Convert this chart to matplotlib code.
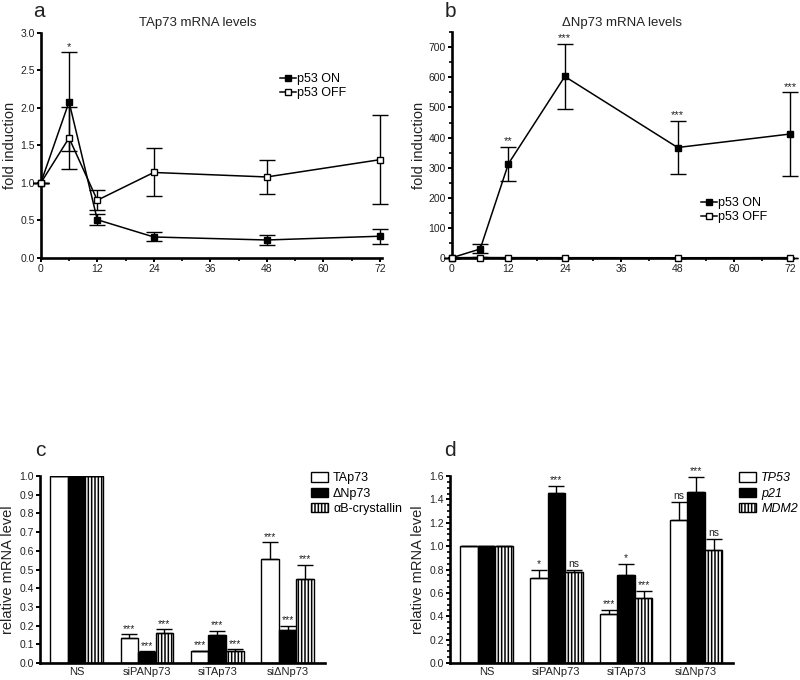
import numpy as np
import matplotlib
matplotlib.use("Agg")
import matplotlib.pyplot as plt
import matplotlib.ticker as ticker

plt.rcParams['font.family'] = ['Liberation Sans', 'DejaVu Sans']
plt.rcParams['hatch.linewidth'] = 1.1
plt.rcParams['hatch.color'] = 'black'

# --- time course data (panels a, b) ---
hours = [0, 6, 12, 24, 48, 72]

tap73_on = [1.0, 2.08, 0.51, 0.28, 0.24, 0.29]
tap73_on_err = [0.0, 0.66, 0.07, 0.06, 0.07, 0.10]
tap73_off = [1.0, 1.60, 0.77, 1.14, 1.08, 1.31]
tap73_off_err = [0.0, 0.41, 0.13, 0.32, 0.23, 0.59]
tap73_stars = ['', '*', '', '', '', '']

dnp73_on = [1.0, 30, 313, 603, 367, 412]
dnp73_on_err = [0.0, 15, 57, 108, 88, 138]
dnp73_off = [1.0, 1.5, 1.2, 1.0, 0.8, 1.1]
dnp73_off_err = [0.0, 0.5, 0.3, 0.3, 0.2, 0.3]
dnp73_stars = ['', '', '**', '***', '***', '***']

# --- siRNA data (panels c, d) ---
conditions = ['NS', 'siPANp73', 'siTAp73', 'siΔNp73']

c_labels = ['TAp73', 'ΔNp73', 'αB-crystallin']
c_values = [[1.0, 0.135, 0.062, 0.555],
            [1.0, 0.057, 0.150, 0.175],
            [1.0, 0.160, 0.063, 0.450]]
c_errors = [[0.0, 0.018, 0.004, 0.090],
            [0.0, 0.005, 0.023, 0.025],
            [0.0, 0.020, 0.010, 0.075]]
c_stars = [['', '***', '***', '***'],
           ['', '***', '***', '***'],
           ['', '***', '***', '***']]

d_labels = ['TP53', 'p21', 'MDM2']
d_values = [[1.0, 0.73, 0.415, 1.225],
            [1.0, 1.455, 0.755, 1.465],
            [1.0, 0.775, 0.560, 0.965]]
d_errors = [[0.0, 0.065, 0.040, 0.155],
            [0.0, 0.060, 0.095, 0.130],
            [0.0, 0.020, 0.060, 0.100]]
d_stars = [['', '*', '***', 'ns'],
           ['', '***', '*', '***'],
           ['', 'ns', '***', 'ns']]

TXT = '#222222'


def style_axes(ax):
    for s in ['top', 'right']:
        ax.spines[s].set_visible(False)
    for s in ['left', 'bottom']:
        ax.spines[s].set_linewidth(1.9)
    ax.tick_params(which='major', direction='out', length=3, width=1.4,
                   labelsize=7.5, colors='black', labelcolor=TXT, pad=1.5)
    ax.tick_params(which='minor', direction='out', length=2, width=1.2)


def time_panel(ax, on, on_err, off, off_err, stars, ylim, major, minor, legend_pos):
    h_on = ax.errorbar(hours, on, yerr=on_err, color='black', lw=1.1, marker='s', ms=5,
                       mfc='black', mec='black', capsize=6, elinewidth=1.0, capthick=1.0,
                       label='p53 ON', clip_on=False, zorder=3)
    h_off = ax.errorbar(hours, off, yerr=off_err, color='black', lw=1.1, marker='s', ms=5,
                        mfc='white', mec='black', mew=1.0, capsize=6, elinewidth=1.0,
                        capthick=1.0, label='p53 OFF', clip_on=False, zorder=3)
    for x, y, e, s in zip(hours, on, on_err, stars):
        if s:
            ax.annotate(s, (x, y + e), xytext=(0, 0.5), textcoords='offset points',
                        ha='center', va='bottom', fontsize=8, color=TXT)
    ax.set_xlim(0, 72.5)
    ax.set_ylim(*ylim)
    ax.xaxis.set_major_locator(ticker.MultipleLocator(12))
    ax.xaxis.set_minor_locator(ticker.MultipleLocator(6))
    ax.yaxis.set_major_locator(ticker.MultipleLocator(major))
    if minor:
        ax.yaxis.set_minor_locator(ticker.MultipleLocator(minor))
    style_axes(ax)
    ax.set_ylabel('fold induction', fontsize=10.5, color=TXT, labelpad=2)
    # legend shows only line + marker, no error bar glyph
    ax.legend(handles=[h_on[0], h_off[0]], labels=['p53 ON', 'p53 OFF'],
              loc='upper left', bbox_to_anchor=legend_pos, frameon=False,
              fontsize=9, handlelength=1.3, handletextpad=0.1, labelspacing=0.15,
              borderpad=0, borderaxespad=0)


def bar_panel(ax, labels, values, errors, stars, ylim, major, minor, italic):
    x = np.arange(len(conditions))
    w = 0.25
    styles = [dict(color='white', hatch=None), dict(color='black', hatch=None),
              dict(color='white', hatch='|||||')]
    for i, (lab, vals, errs, st) in enumerate(zip(labels, values, errors, stars)):
        pos = x + (i - 1) * w
        ax.bar(pos, vals, width=w, color=styles[i]['color'], hatch=styles[i]['hatch'],
               edgecolor='black', linewidth=1.0, label=lab, zorder=2)
        errs_arr = np.array(errs)
        ax.errorbar(pos, vals, yerr=[np.zeros_like(errs_arr), errs_arr], fmt='none',
                    ecolor='black', elinewidth=1.0, capsize=6, capthick=1.0, zorder=3)
        for p, v, e, s in zip(pos, vals, errs, st):
            if s:
                ax.annotate(s, (p, v + e), xytext=(0, 0.5), textcoords='offset points',
                            ha='center', va='bottom', fontsize=7.5, color=TXT)
    ax.set_xticks(x)
    ax.set_xticklabels(conditions)
    ax.set_xlim(-0.52, 3.53)
    ax.set_ylim(*ylim)
    ax.yaxis.set_major_locator(ticker.MultipleLocator(major))
    if minor:
        ax.yaxis.set_minor_locator(ticker.MultipleLocator(minor))
    style_axes(ax)
    ax.tick_params(axis='x', length=0, labelsize=8, pad=3)
    ax.set_ylabel('relative mRNA level', fontsize=10.5, color=TXT, labelpad=3)
    leg = ax.legend(loc='upper left', bbox_to_anchor=(0.95 if not italic else 1.02, 1.02),
                    frameon=False, fontsize=9, handlelength=1.4, handleheight=0.8,
                    handletextpad=0.4, labelspacing=0.25, borderpad=0, borderaxespad=0)
    if italic:
        for t in leg.get_texts():
            t.set_fontstyle('italic')


fig = plt.figure(figsize=(8, 6.8), dpi=100)

ax_a = fig.add_axes([0.051, 0.6206, 0.4267, 0.331])
time_panel(ax_a, tap73_on, tap73_on_err, tap73_off, tap73_off_err, tap73_stars,
           (0, 3.0), 0.5, None, (0.70, 0.82))

ax_b = fig.add_axes([0.565, 0.6206, 0.426, 0.332])
time_panel(ax_b, dnp73_on, dnp73_on_err, dnp73_off, dnp73_off_err, dnp73_stars,
           (0, 750), 100, 50, (0.73, 0.27))

ax_c = fig.add_axes([0.05, 0.025, 0.356, 0.275])
bar_panel(ax_c, c_labels, c_values, c_errors, c_stars, (0, 1.0), 0.1, None, False)

ax_d = fig.add_axes([0.5625, 0.025, 0.354, 0.275])
bar_panel(ax_d, d_labels, d_values, d_errors, d_stars, (0, 1.6), 0.2, 0.05, True)

fig.text(0.2475, 0.966, 'TAp73 mRNA levels', ha='center', va='center', fontsize=9.5, color=TXT)
fig.text(0.7775, 0.966, 'ΔNp73 mRNA levels', ha='center', va='center', fontsize=9.5, color=TXT)

for lab, x, y in [('a', 0.049, 0.975), ('b', 0.5625, 0.975),
                  ('c', 0.05, 0.329), ('d', 0.5625, 0.329)]:
    fig.text(x, y, lab, ha='center', va='baseline', fontsize=15, color=TXT)

fig.savefig('out.png', dpi=100)
